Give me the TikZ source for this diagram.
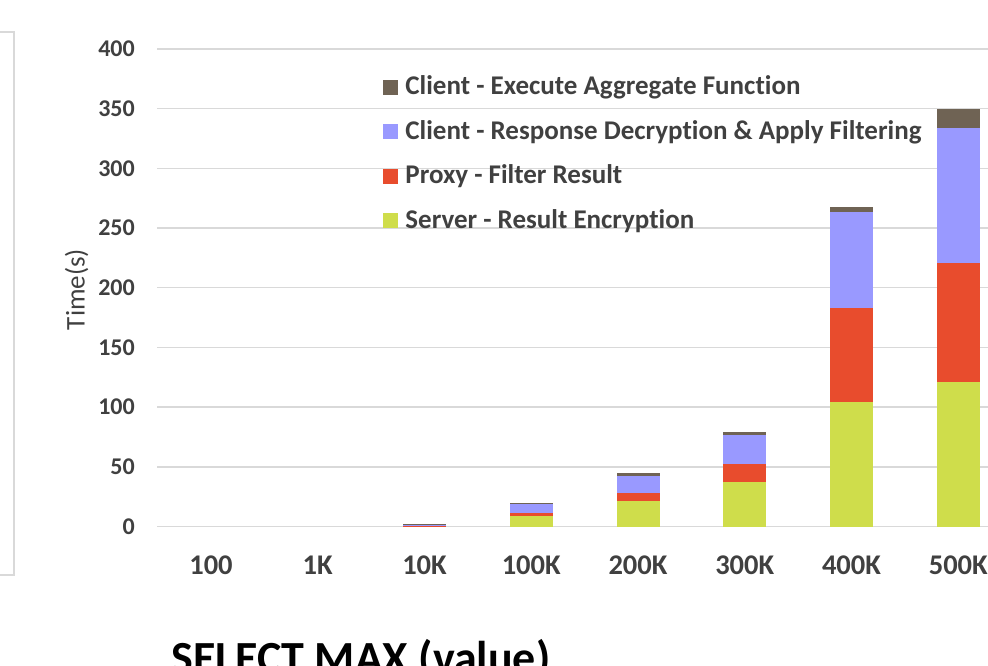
\documentclass[tikz,border=0pt]{standalone}
\usepackage{fontspec}
\setmainfont{Carlito}[Ligatures=NoCommon]
\usepackage{xcolor}
\usetikzlibrary{positioning}
\definecolor{txtgray}{HTML}{404040}
\definecolor{gridgray}{HTML}{D9D9D9}
\definecolor{aggbrown}{HTML}{6F6354}
\definecolor{decblue}{HTML}{9999FF}
\definecolor{proxyred}{HTML}{E84C2D}
\definecolor{encgreen}{HTML}{CFDD4B}

\begin{document}
\begin{tikzpicture}[
  x=1pt, y=1pt,
  grid/.style={draw=gridgray, line width=1.5pt},
  ticklabel/.style={anchor=east, inner sep=0pt,
                    font=\fontsize{24}{28}\selectfont\bfseries\color{txtgray}},
  catlabel/.style={anchor=center, inner sep=0pt,
                   font=\fontsize{28.5}{32}\selectfont\bfseries\color{txtgray}},
  legkey/.style={rectangle, minimum size=15pt, inner sep=0pt},
  legtext/.style={anchor=west, inner sep=0pt,
                  font=\fontsize{27}{30}\selectfont\bfseries\color{txtgray}}
]
  \useasboundingbox (0,0) rectangle (988,665);
  \clip (0,0) rectangle (988,665);

  % edge of the chart on the left
  \draw[grid] (0,633) -- (14,633) -- (14,90) -- (0,90);

  \node[rotate=90, inner sep=0pt, font=\fontsize{27}{30}\selectfont\color{txtgray}]
    (ytitle) at (76.7,375.5) {Time(s)};

  \begin{scope}[shift={(0,138.5)}, y=1.194pt]
    \foreach \v in {0,50,...,400} {
      \draw[grid] (157,\v) -- (988,\v);
      \node[ticklabel] (tick\v) at (135,\v) {\v};
    }

    % green / red / blue / brown
    \foreach \cat/\g/\r/\b/\k [count=\i from 0] in
      {100/0/0/0/0, 1K/0/0/0/0, 10K/0.1/0.1/1.3/0.2, 100K/8.6/2.4/7.7/0.8,
       200K/21/7/14.7/1.7, 300K/37/15/25/2.5, 400K/104.6/78.4/80.6/4.4,
       500K/121/100/113/16} {
      \pgfmathsetmacro{\xc}{211+106.75*\i}
      \pgfmathsetmacro{\ya}{\g}
      \pgfmathsetmacro{\yb}{\ya+\r}
      \pgfmathsetmacro{\yc}{\yb+\b}
      \pgfmathsetmacro{\yd}{\yc+\k}
      \ifdim\yd pt>0pt
        \fill[encgreen]  (\xc-21.5,0)   rectangle (\xc+21.5,\ya);
        \fill[proxyred]  (\xc-21.5,\ya) rectangle (\xc+21.5,\yb);
        \fill[decblue]   (\xc-21.5,\yb) rectangle (\xc+21.5,\yc);
        \fill[aggbrown]  (\xc-21.5,\yc) rectangle (\xc+21.5,\yd);
      \fi
      \node[catlabel] (cat\i) at (\xc,-32.2) {\cat};
    }
  \end{scope}

  \node[legkey, fill=aggbrown] (key1) at (390.5,577.5) {};
  \node[legkey, fill=decblue, below=29pt of key1] (key2) {};
  \node[legkey, fill=proxyred, below=29pt of key2] (key3) {};
  \node[legkey, fill=encgreen, below=29pt of key3] (key4) {};
  \node[legtext, right=7pt of key1] (leg1) {Client - Execute Aggregate Function};
  \node[legtext, right=7pt of key2] (leg2) {Client - Response Decryption \& Apply Filtering};
  \node[legtext, right=7pt of key3] (leg3) {Proxy - Filter Result};
  \node[legtext, right=7pt of key4] (leg4) {Server - Result Encryption};

  \node[anchor=base west, inner sep=0pt, font=\fontsize{46}{50}\selectfont\bfseries]
    (title) at (171.5,-8.6) {SELECT MAX (value)};
\end{tikzpicture}
\end{document}
